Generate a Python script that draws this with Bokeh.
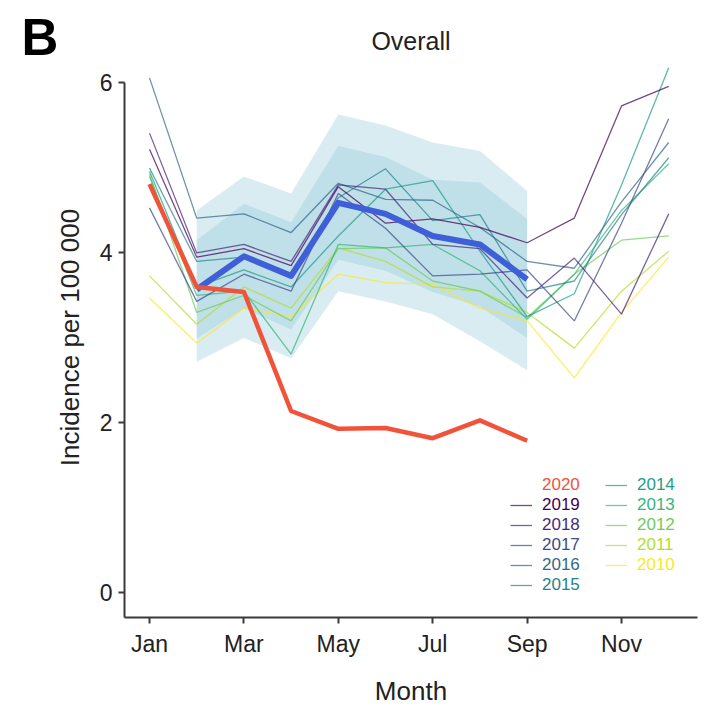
from bokeh.plotting import figure
from bokeh.models import (Range1d, FixedTicker, Legend, LegendItem, Label)
from bokeh.embed import file_html
from bokeh.resources import INLINE

# ---------------- data ----------------
months = list(range(1, 13))
tick_months = [1, 3, 5, 7, 9, 11]
tick_labels = ["Jan", "Mar", "May", "Jul", "Sep", "Nov"]
y_ticks = [0, 2, 4, 6]

years = [2019, 2018, 2017, 2016, 2015, 2014, 2013, 2012, 2011, 2010]
year_colors = ["#440154", "#482878", "#3E4A89", "#31688E", "#26828E",
               "#1F9E89", "#35B779", "#6DCD59", "#B4DE2C", "#FDE725"]

inc_2019 = [5.22, 3.95, 4.05, 3.85, 4.78, 4.35, 4.40, 4.30, 4.12, 4.41, 5.73, 5.96]
inc_2018 = [5.41, 4.00, 4.10, 3.90, 4.80, 4.75, 4.10, 4.05, 3.47, 3.94, 3.28, 4.46]
inc_2017 = [4.53, 3.43, 3.75, 3.55, 4.70, 4.29, 3.73, 3.75, 3.80, 3.20, 4.35, 5.58]
inc_2016 = [6.06, 4.41, 4.46, 4.24, 4.82, 4.63, 4.62, 4.30, 3.90, 3.82, 4.60, 5.30]
inc_2015 = [5.00, 3.90, 3.95, 3.75, 4.65, 4.99, 4.38, 4.45, 3.55, 3.67, 4.45, 5.12]
inc_2014 = [4.96, 3.60, 3.80, 3.60, 4.20, 4.75, 4.85, 4.02, 3.25, 3.52, 4.80, 6.18]
inc_2013 = [4.90, 3.50, 3.55, 2.81, 4.10, 4.06, 4.10, 3.79, 3.22, 3.75, 4.50, 5.05]
inc_2012 = [4.93, 3.30, 3.50, 3.20, 4.05, 4.06, 3.67, 3.55, 3.24, 3.75, 4.15, 4.20]
inc_2011 = [3.73, 3.16, 3.60, 3.35, 4.06, 3.90, 3.60, 3.55, 3.30, 2.88, 3.55, 4.02]
inc_2010 = [3.47, 2.94, 3.35, 3.25, 3.75, 3.65, 3.63, 3.35, 3.20, 2.53, 3.30, 3.95]
year_values = [inc_2019, inc_2018, inc_2017, inc_2016, inc_2015,
               inc_2014, inc_2013, inc_2012, inc_2011, inc_2010]

months_2020 = list(range(1, 10))
inc_2020 = [4.81, 3.60, 3.54, 2.14, 1.93, 1.94, 1.82, 2.03, 1.79]

band_months = list(range(2, 10))
expected_mean = [3.57, 3.96, 3.73, 4.59, 4.46, 4.20, 4.10, 3.69]
outer_hi = [4.50, 4.90, 4.70, 5.63, 5.50, 5.30, 5.20, 4.73]
outer_lo = [2.72, 3.00, 2.76, 3.55, 3.43, 3.28, 2.96, 2.62]
inner_hi = [4.15, 4.58, 4.36, 5.26, 5.13, 4.86, 4.83, 4.40]
inner_lo = [2.99, 3.35, 3.10, 3.92, 3.79, 3.54, 3.37, 3.00]

RED = "#F0533A"
BLUE = "#3F5FD8"
FONT = "Liberation Sans"

# ---------------- figure ----------------
p = figure(width=717, height=714, output_backend="svg", toolbar_location=None,
           x_range=Range1d(0.47, 12.61), y_range=Range1d(-0.29, 6.3),
           min_border_left=124, min_border_right=20, min_border_top=57,
           min_border_bottom=97, title="Overall")
p.outline_line_color = None
p.xgrid.visible = False
p.ygrid.visible = False
p.background_fill_color = "white"
p.border_fill_color = "white"

p.title.align = "center"
p.title.text_font = FONT
p.title.text_font_size = "25px"
p.title.text_font_style = "normal"
p.title.text_color = "#222222"
p.title.standoff = 6

for ax in (p.xaxis[0], p.yaxis[0]):
    ax.axis_line_color = "#3a3a3a"
    ax.axis_line_width = 2
    ax.major_tick_line_color = "#3a3a3a"
    ax.major_tick_line_width = 2
    ax.major_tick_out = 6
    ax.major_tick_in = 0
    ax.minor_tick_line_color = None
    ax.major_label_text_font = FONT
    ax.major_label_text_font_size = "23px"
    ax.major_label_text_color = "#222222"
    ax.axis_label_text_font = FONT
    ax.axis_label_text_font_size = "26px"
    ax.axis_label_text_font_style = "normal"
    ax.axis_label_text_color = "#222222"

p.xaxis.ticker = FixedTicker(ticks=tick_months)
p.xaxis.major_label_overrides = {m: lab for m, lab in zip(tick_months, tick_labels)}
p.xaxis.axis_label = "Month"
p.xaxis.major_label_standoff = 7
p.xaxis.axis_label_standoff = 16

p.yaxis.ticker = FixedTicker(ticks=y_ticks)
p.yaxis.axis_label = "Incidence per 100 000"
p.yaxis.major_label_standoff = 6
p.yaxis.axis_label_standoff = 12
p.yaxis.bounds = (-0.29, 6)

# bands
p.varea(x=band_months, y1=outer_lo, y2=outer_hi, fill_color="#8CC6D8", fill_alpha=0.33)
p.varea(x=band_months, y1=inner_lo, y2=inner_hi, fill_color="#8CC6D8", fill_alpha=0.33)

# yearly lines (draw oldest first)
year_renderers = {}
for yr, col, vals in reversed(list(zip(years, year_colors, year_values))):
    r = p.line(months, vals, line_color=col, line_width=1.3, line_alpha=0.72)
    year_renderers[yr] = r

# expected mean line
p.line(band_months, expected_mean, line_color=BLUE, line_width=6, line_join="round")
# 2020
p.line(months_2020, inc_2020, line_color=RED, line_width=4.5, line_join="round")
legend_2020 = p.line([], [], line_color=RED, line_width=1.5)

# ---------------- legend (two columns, coloured labels) ----------------
legend_years = [2020] + years
legend_colors = [RED] + year_colors
for i, (yr, col) in enumerate(zip(legend_years, legend_colors)):
    c, r = (0, i) if i < 6 else (1, i - 6)
    rend = legend_2020 if yr == 2020 else year_renderers[yr]
    leg = Legend(items=[LegendItem(label=str(yr), renderers=[rend])],
                 location=(386 + 95 * c, 122 - 20 * r),
                 label_text_color=col, label_text_font=FONT,
                 label_text_font_size="17px", glyph_width=22, glyph_height=20,
                 label_height=20, label_standoff=10, padding=0, margin=0,
                 spacing=0, background_fill_alpha=0, border_line_alpha=0)
    p.add_layout(leg)

# panel letter (side panel, so it is not clipped to the frame)
p.add_layout(Label(x=7, y=580, x_units="screen", y_units="screen", text="B",
                   text_font=FONT, text_font_size="51px", text_font_style="bold",
                   text_baseline="alphabetic", text_align="left",
                   text_color="black"), "left")

open("out.html", "w").write(file_html(p, INLINE))
